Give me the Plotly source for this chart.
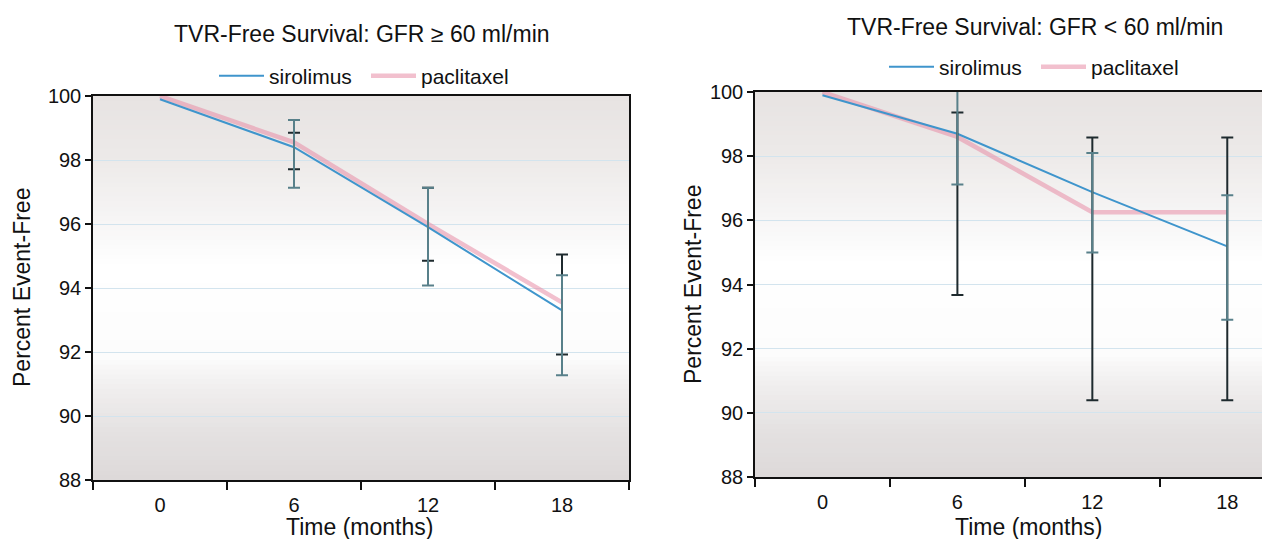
import plotly.graph_objects as go

# ---------------- data ----------------
months = [0, 6, 12, 18]
month_labels = ["0", "6", "12", "18"]
err_months = [6, 12, 18]

left_sir = [99.9, 98.4, 95.9, 93.3]
left_pac = [100.0, 98.55, 96.0, 93.55]
left_sir_hi = [99.25, 97.13, 94.4]
left_sir_lo = [97.13, 94.08, 91.27]
left_pac_hi = [98.85, 97.13, 95.05]
left_pac_lo = [97.71, 94.85, 91.92]

right_sir = [99.9, 98.7, 96.88, 95.19]
right_pac = [100.0, 98.6, 96.25, 96.25]
right_sir_hi = [100.28, 98.1, 96.78]
right_sir_lo = [97.12, 95.0, 92.9]
right_pac_hi = [99.36, 98.58, 98.58]
right_pac_lo = [93.67, 90.39, 90.39]

y_ticks = [88, 90, 92, 94, 96, 98, 100]
boundaries = [-3, 3, 9, 15, 21]

titles = ["TVR-Free Survival: GFR \u2265 60 ml/min", "TVR-Free Survival: GFR < 60 ml/min"]
x_title = "Time (months)"
y_title = "Percent Event-Free"

FONT = "Arial, Liberation Sans, sans-serif"
BLUE = "#3f95cc"
PINK = "rgba(232,140,165,0.55)"
SIR_ERR = "#58808a"
PAC_ERR = "#1e2a2e"

fig = go.Figure()


def add_panel(sir, pac, sir_hi, sir_lo, pac_hi, pac_lo, xa, ya, legend):
    fig.add_trace(go.Scatter(x=months, y=pac, mode="lines", name="paclitaxel",
                             line=dict(color=PINK, width=4.5), xaxis=xa, yaxis=ya,
                             legend=legend, legendrank=2))
    fig.add_trace(go.Scatter(x=months, y=sir, mode="lines", name="sirolimus",
                             line=dict(color=BLUE, width=2), xaxis=xa, yaxis=ya,
                             legend=legend, legendrank=1))
    pv = pac[1:]
    sv = sir[1:]
    fig.add_trace(go.Scatter(
        x=err_months, y=pv, mode="markers", marker=dict(opacity=0, size=1),
        showlegend=False, hoverinfo="skip", xaxis=xa, yaxis=ya,
        error_y=dict(type="data", symmetric=False,
                     array=[h - v for h, v in zip(pac_hi, pv)],
                     arrayminus=[v - l for v, l in zip(pv, pac_lo)],
                     color=PAC_ERR, thickness=2, width=6)))
    fig.add_trace(go.Scatter(
        x=err_months, y=sv, mode="markers", marker=dict(opacity=0, size=1),
        showlegend=False, hoverinfo="skip", xaxis=xa, yaxis=ya,
        error_y=dict(type="data", symmetric=False,
                     array=[h - v for h, v in zip(sir_hi, sv)],
                     arrayminus=[v - l for v, l in zip(sv, sir_lo)],
                     color=SIR_ERR, thickness=2, width=6)))


add_panel(left_sir, left_pac, left_sir_hi, left_sir_lo, left_pac_hi, left_pac_lo, "x", "y", "legend")
add_panel(right_sir, right_pac, right_sir_hi, right_sir_lo, right_pac_hi, right_pac_lo, "x2", "y2", "legend2")

# background gradient strips (styling only)
stops = [(0.0, (221, 217, 217)), (0.12, (228, 225, 225)), (0.24, (240, 238, 238)),
         (0.32, (252, 252, 252)), (0.55, (255, 255, 255)), (0.68, (246, 245, 245)),
         (0.85, (236, 233, 232)), (1.0, (231, 227, 226))]


def col_at(f):
    for (a, ca), (b, cb) in zip(stops[:-1], stops[1:]):
        if a <= f <= b:
            t = (f - a) / (b - a)
            return "rgb(%d,%d,%d)" % tuple(round(ca[i] + (cb[i] - ca[i]) * t) for i in range(3))
    return "rgb(%d,%d,%d)" % stops[-1][1]


N = 80
shapes = []
for xa, ya in (("x", "y"), ("x2", "y2")):
    for i in range(N):
        y0 = i / N
        y1 = (i + 1) / N + 0.004
        shapes.append(dict(type="rect", xref=xa + " domain", yref=ya + " domain",
                           x0=0, x1=1, y0=y0, y1=min(y1, 1), layer="below",
                           fillcolor=col_at((i + 0.5) / N), line=dict(width=0)))

tick_font = dict(family=FONT, size=20, color="#111")


def xaxis(domain, rng, anchor):
    return dict(domain=domain, range=rng, anchor=anchor, automargin=False,
                tickmode="array", tickvals=months, ticktext=month_labels,
                ticks="", tickfont=tick_font, showgrid=False, zeroline=False,
                ticklabelstandoff=6,
                showline=True, linecolor="#111", linewidth=1.5, mirror=True,
                minor=dict(tickmode="array", tickvals=boundaries, ticks="outside",
                           ticklen=8, tickcolor="#111", tickwidth=1.5, showgrid=False))


def yaxis(domain, anchor, mirror):
    return dict(domain=domain, range=[88, 100], anchor=anchor, automargin=False,
                tickmode="array", tickvals=y_ticks, ticks="outside", ticklen=6,
                tickcolor="#111", tickwidth=1.5, tickfont=tick_font,
                showgrid=True, gridcolor="#d3e4ee", gridwidth=1, zeroline=False,
                showline=True, linecolor="#111", linewidth=1.5, mirror=mirror)


# the page adds an 8 px body margin; work in screen pixels and convert
OFF = 8
W, H = 1270 - OFF, 539 - OFF


def px(x):
    return (x - OFF) / W


def py(y):
    return 1 - (y - OFF) / H


def ann(text, x, y, size, angle=0):
    return dict(text=text, x=px(x), y=py(y), xref="paper", yref="paper", showarrow=False,
                font=dict(family=FONT, size=size, color="#111"), textangle=angle,
                xanchor="center", yanchor="middle")


def legend_cfg(x, y):
    return dict(orientation="h", x=px(x), xanchor="center", y=py(y), yanchor="middle",
                font=dict(family=FONT, size=21, color="#111"), bgcolor="rgba(0,0,0,0)",
                itemwidth=45, entrywidth=92, entrywidthmode="pixels", traceorder="normal")


fig.update_layout(
    width=W, height=H, margin=dict(l=0, r=0, t=0, b=0, autoexpand=False),
    paper_bgcolor="white", plot_bgcolor="white",
    font=dict(family=FONT, color="#111"),
    xaxis=xaxis([px(93), px(629)], [-3, 21], "y"),
    yaxis=yaxis([py(480), py(96)], "x", True),
    xaxis2=xaxis([px(755), 1.0], [-3, 19.9], "y2"),
    yaxis2=yaxis([py(477), py(92)], "x2", False),
    shapes=shapes,
    legend=legend_cfg(366, 76),
    legend2=legend_cfg(1036, 67),
    annotations=[
        ann(titles[0], 362, 34, 23),
        ann(titles[1], 1035, 27, 23),
        ann(x_title, 359, 527, 23),
        ann(x_title, 1028, 527, 23),
        ann(y_title, 22, 288, 23, -90),
        ann(y_title, 693, 285, 23, -90),
    ],
)

fig.write_html("out.html")
